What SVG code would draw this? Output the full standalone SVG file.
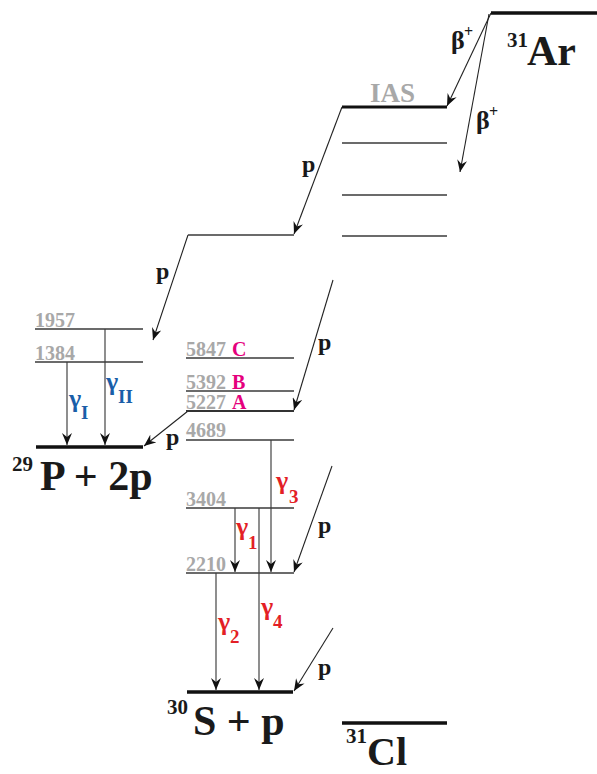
<svg xmlns="http://www.w3.org/2000/svg" width="597" height="774" viewBox="0 0 597 774">
<defs>
<style>
text{font-family:"Liberation Serif","Times New Roman",serif;font-weight:bold}
.lv{stroke:#3a3a3a;stroke-width:1.3;fill:none}
.gs{stroke:#111;stroke-width:3.6;fill:none}
.ar{stroke:#222;stroke-width:1.1;fill:none;marker-end:url(#ah)}
.gm{stroke:#444;stroke-width:1.2;fill:none;marker-end:url(#ah)}
.num{fill:#a8a8a8;font-size:20px}
.let{fill:#e5007d;font-size:20px}
.big{fill:#1a1a1a;font-size:42px}
.sup{fill:#1a1a1a;font-size:21px}
.p{fill:#1a1a1a;font-size:24px}
.red{fill:#e31f26}
.blue{fill:#1a5ea8}
.g{font-size:26px}
.s{font-size:19px}
</style>
<marker id="ah" markerUnits="userSpaceOnUse" markerWidth="14" markerHeight="10" refX="12" refY="5" orient="auto" viewBox="0 0 14 10">
<path d="M0,0 L12,5 L0,10 L4,5 z" fill="#111"/>
</marker>
</defs>

<g id="connectors">
<line class="ar" x1="491" y1="13" x2="447" y2="106"/>
<line class="ar" x1="489" y1="14" x2="460" y2="172"/>
<line class="ar" x1="342" y1="107" x2="294" y2="234"/>
<line class="ar" x1="188" y1="235" x2="153" y2="340"/>
<line class="ar" x1="333" y1="280" x2="294" y2="410"/>
<line class="ar" x1="188" y1="411" x2="144" y2="446"/>
<line class="ar" x1="332" y1="466" x2="294" y2="572"/>
<line class="ar" x1="333" y1="628" x2="294" y2="691"/>
<line class="gm" x1="271" y1="440" x2="271" y2="572"/>
<line class="gm" x1="235" y1="508" x2="235" y2="572"/>
<line class="gm" x1="216" y1="573" x2="216" y2="690"/>
<line class="gm" x1="259" y1="508" x2="259" y2="690"/>
<line class="gm" x1="67" y1="362" x2="67" y2="445"/>
<line class="gm" x1="105" y1="329" x2="105" y2="445"/>
</g>

<g id="Ar31">
<line class="gs" x1="491" y1="13" x2="597" y2="13"/>
<text class="sup" x="507" y="47">31</text>
<text class="big" x="527" y="65">Ar</text>
</g>

<g id="IAS">
<line class="lv" x1="342" y1="107" x2="447" y2="107" style="stroke-width:3;stroke:#111"/>
<text x="370" y="102" style="fill:#a8a8a8;font-size:27px">IAS</text>
</g>
<g id="Cl_level2"><line class="lv" x1="342" y1="143" x2="447" y2="143"/></g>
<g id="Cl_level3"><line class="lv" x1="342" y1="195" x2="447" y2="195"/></g>
<g id="Cl_level4"><line class="lv" x1="342" y1="236" x2="447" y2="236"/></g>

<g id="S_intermediate"><line class="lv" x1="188" y1="235" x2="294" y2="235"/></g>

<g id="P1957">
<line class="lv" x1="35" y1="329" x2="143" y2="329"/>
<text class="num" x="35" y="327">1957</text>
</g>
<g id="P1384">
<line class="lv" x1="35" y1="362" x2="143" y2="362"/>
<text class="num" x="35" y="360">1384</text>
</g>
<g id="P29">
<line class="gs" x1="36" y1="447" x2="143" y2="447"/>
<text class="sup" x="12" y="471">29</text>
<text class="big" x="40" y="490">P + 2p</text>
</g>

<g id="S5847">
<line class="lv" x1="186" y1="358" x2="294" y2="358"/>
<text class="num" x="186" y="356">5847</text>
<text class="let" x="232" y="356">C</text>
</g>
<g id="S5392">
<line class="lv" x1="186" y1="391" x2="294" y2="391"/>
<text class="num" x="186" y="389">5392</text>
<text class="let" x="232" y="389">B</text>
</g>
<g id="S5227">
<line class="lv" x1="186" y1="411" x2="294" y2="411" style="stroke-width:2;stroke:#333"/>
<text class="num" x="186" y="409">5227</text>
<text class="let" x="232" y="409">A</text>
</g>
<g id="S4689">
<line class="lv" x1="186" y1="440" x2="294" y2="440"/>
<text class="num" x="186" y="437">4689</text>
</g>
<g id="S3404">
<line class="lv" x1="186" y1="508" x2="294" y2="508"/>
<text class="num" x="186" y="506">3404</text>
</g>
<g id="S2210">
<line class="lv" x1="186" y1="573" x2="294" y2="573"/>
<text class="num" x="186" y="571">2210</text>
</g>
<g id="S30">
<line class="gs" x1="187" y1="692" x2="293" y2="692"/>
<text class="sup" x="167" y="714">30</text>
<text class="big" x="193" y="735">S + p</text>
</g>

<g id="Cl31">
<line class="gs" x1="342" y1="723" x2="447" y2="723"/>
<text class="sup" x="346" y="743">31</text>
<text class="big" x="367" y="765" style="font-size:40px">Cl</text>
</g>

<g id="labels">
<text class="p" x="451" y="49" style="font-size:26px">β</text>
<text class="p" x="464" y="37" style="font-size:16px">+</text>
<text class="p" x="476" y="129" style="font-size:26px">β</text>
<text class="p" x="489" y="117" style="font-size:16px">+</text>
<text class="p" x="302" y="172">p</text>
<text class="p" x="156" y="279">p</text>
<text class="p" x="318" y="350">p</text>
<text class="p" x="166" y="445">p</text>
<text class="p" x="318" y="533">p</text>
<text class="p" x="318" y="675">p</text>
<text class="red g" x="276" y="489">γ</text><text class="red s" x="289" y="503">3</text>
<text class="red g" x="236" y="535">γ</text><text class="red s" x="248" y="549">1</text>
<text class="red g" x="218" y="630">γ</text><text class="red s" x="230" y="643">2</text>
<text class="red g" x="261" y="615">γ</text><text class="red s" x="273" y="628">4</text>
<text class="blue g" x="69" y="407">γ</text><text class="blue s" x="81" y="419">I</text>
<text class="blue g" x="106" y="390">γ</text><text class="blue s" x="118" y="403">II</text>
</g>
</svg>
